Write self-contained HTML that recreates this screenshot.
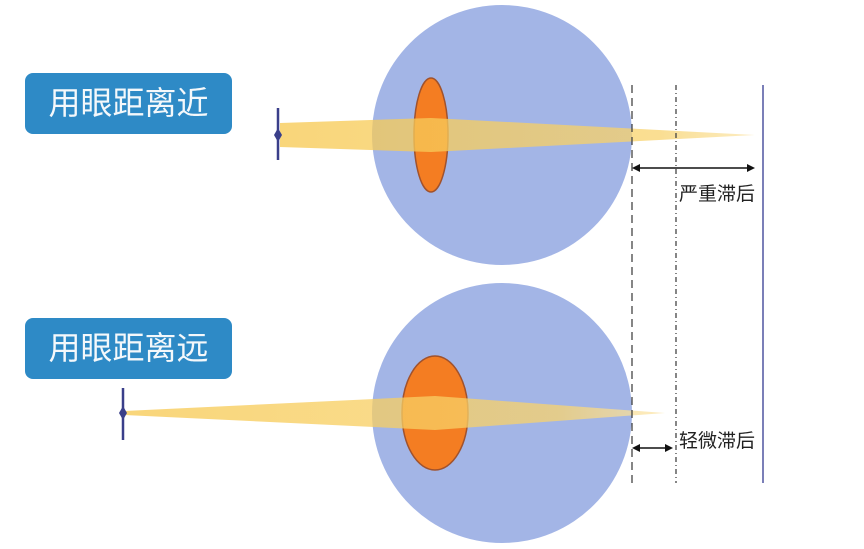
<!DOCTYPE html>
<html><head><meta charset="utf-8"><style>
html,body{margin:0;padding:0;background:#fff;width:864px;height:549px;overflow:hidden}
.lbl{position:absolute;left:25px;width:207px;height:61px;background:#2e8ac6;border-radius:8px;color:#f4f8fb;font:32px "Liberation Sans","Noto Sans CJK SC",sans-serif;line-height:61px;text-align:center}
</style></head><body>
<div class="lbl" style="top:73px">用眼距离近</div>
<div class="lbl" style="top:318px">用眼距离远</div>
<svg width="864" height="549" style="position:absolute;left:0;top:0">
<defs><linearGradient id="g1" x1="0" x2="1"><stop offset="0" stop-color="#f7c84e"/><stop offset="0.8" stop-color="#f8d36e"/><stop offset="1" stop-color="#fbe6ae"/></linearGradient></defs>
<circle cx="502" cy="135" r="130" fill="#a3b5e6"/>
<circle cx="502" cy="413" r="130" fill="#a3b5e6"/>
<ellipse cx="431" cy="135" rx="17" ry="57" fill="#f47d22" stroke="#a0522d" stroke-width="1.5"/>
<ellipse cx="435" cy="413" rx="33" ry="57" fill="#f47d22" stroke="#a0522d" stroke-width="1.5"/>
<polygon points="280,123 431,118 755,135 431,152 280,147" fill="url(#g1)" opacity="0.75"/>
<polygon points="125,411 435,396 665,413 435,430 125,415" fill="url(#g1)" opacity="0.75"/>
<g stroke="#3a3f8a" stroke-width="2.5"><line x1="278" y1="108" x2="278" y2="160"/><line x1="123" y1="388" x2="123" y2="440"/></g>
<polygon points="278,128 282,135 278,142 274,135" fill="#3a3f8a"/>
<polygon points="123,406 127,413 123,420 119,413" fill="#3a3f8a"/>
<line x1="632" y1="85" x2="632" y2="483" stroke="#444" stroke-width="1.3" stroke-dasharray="8,5"/>
<line x1="676" y1="85" x2="676" y2="483" stroke="#444" stroke-width="1.3" stroke-dasharray="5,3,1,3"/>
<line x1="763" y1="85" x2="763" y2="483" stroke="#7b7fb8" stroke-width="2"/>
<g stroke="#111" stroke-width="1.5"><line x1="635" y1="168" x2="752" y2="168"/><line x1="635" y1="448" x2="670" y2="448"/></g>
<g fill="#111"><polygon points="632,168 640,164 640,172"/><polygon points="755,168 747,164 747,172"/><polygon points="632,448 640,444 640,452"/><polygon points="673,448 665,444 665,452"/></g>
<g font-family="Liberation Sans,Noto Sans CJK SC,sans-serif" font-size="19" fill="#222"><text x="679" y="200">严重滞后</text><text x="679" y="447">轻微滞后</text></g>
</svg>
</body></html>
